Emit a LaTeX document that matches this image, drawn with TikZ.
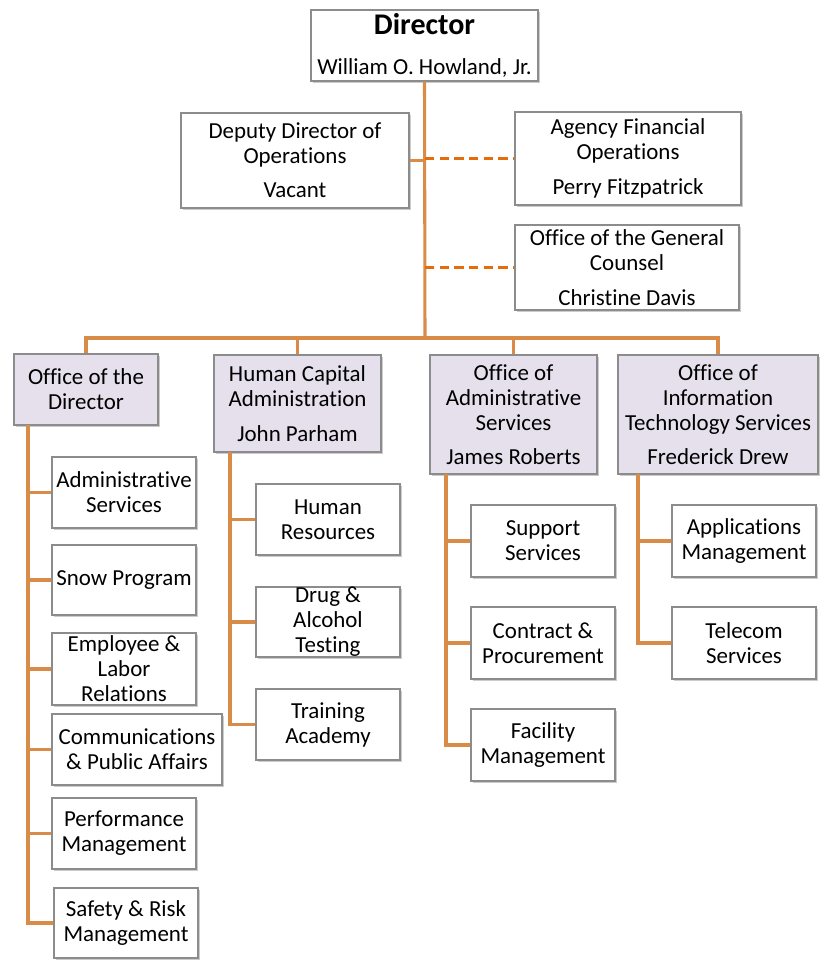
\documentclass[tikz,border=0pt]{standalone}
\usepackage{fontspec}
\setmainfont{Carlito}[Ligatures=NoCommon]
\usepackage{xcolor}
\usepackage{tikz}
\usetikzlibrary{positioning, shadows}
\definecolor{linkorange}{HTML}{D98B48}
\definecolor{dashorange}{HTML}{E46C0A}
\definecolor{lavender}{HTML}{E5E0EC}
\tikzset{
  unitbox/.style 2 args={rectangle, draw=black!45, line width=0.8pt, fill=white,
                 align=center, inner sep=0pt, minimum width=#1*0.75pt, minimum height=#2*0.75pt,
                 drop shadow={shadow xshift=1.3pt, shadow yshift=-1.5pt, fill=black!40, opacity=0.5}},
  headbox/.style 2 args={unitbox={#1}{#2}, fill=lavender},
  link/.style={draw=linkorange, line width=2.3pt},
  staffline/.style={draw=dashorange, line width=2.5pt, dash pattern=on 7pt off 4pt},
}

\begin{document}
\begin{tikzpicture}[x=0.75pt, y=-0.75pt, font=\fontsize{17.2}{18.75}\selectfont]
  \useasboundingbox (0,0) rectangle (825,960);

  % --- Director ---
  \node[unitbox={227}{71}] (dir) at (424.5,45.5)
        {{\fontsize{22.5}{24}\selectfont\bfseries Director}\\[11pt] William O. Howland, Jr.};

  % --- Staff offices ---
  \node[unitbox={228}{95}] (dep) at (295,160.5)
        {Deputy Director of\\ Operations\\[7pt] Vacant};
  \node[unitbox={226}{93}] (afo) at (628,158.5)
        {Agency Financial\\ Operations\\[7pt] Perry Fitzpatrick};
  \node[unitbox={224}{85}] (ogc) at (627,267.5)
        {Office of the General\\ Counsel\\[7pt] Christine Davis};

  % --- Offices ---
  \node[headbox={144}{71}]  (odir) at (86,389.5)   {Office of the\\ Director};
  \node[headbox={167}{97}]  (hca)  at (297.5,403.5) {Human Capital\\ Administration\\[7pt] John Parham};
  \node[headbox={167}{119}] (oas)  at (513.5,414.5) {Office of\\ Administrative\\ Services\\[7pt] James Roberts};
  \node[headbox={200}{119}] (oits) at (718,414.5)   {Office of\\ Information\\ Technology Services\\[7pt] Frederick Drew};

  % --- Office of the Director units ---
  \node[unitbox={144}{71}] (adm)  at (124,492.5) {Administrative\\ Services};
  \node[unitbox={144}{70}] (snow) at (124,580)   {Snow Program};
  \node[unitbox={144}{72}] (elr)  at (124,669)   {Employee \&\\ Labor\\ Relations};
  \node[unitbox={170}{71}] (cpa)  at (137,749.5) {Communications\\ \& Public Affairs};
  \node[unitbox={144}{71}] (perf) at (124,833.5) {Performance\\ Management};
  \node[unitbox={144}{70}] (safe) at (126,923)   {Safety \& Risk\\ Management};

  % --- Human Capital units ---
  \node[unitbox={144}{71}] (hr)    at (328,519.5) {Human\\ Resources};
  \node[unitbox={144}{70}] (drug)  at (328,622)   {Drug \&\\ Alcohol\\ Testing};
  \node[unitbox={144}{71}] (train) at (328,724.5) {Training\\ Academy};

  % --- Administrative Services units ---
  \node[unitbox={144}{72}] (sup) at (543,541) {Support\\ Services};
  \node[unitbox={144}{72}] (con) at (543,643) {Contract \&\\ Procurement};
  \node[unitbox={144}{72}] (fac) at (543,745) {Facility\\ Management};

  % --- IT Services units ---
  \node[unitbox={144}{72}] (app) at (744,541) {Applications\\ Management};
  \node[unitbox={144}{72}] (tel) at (744,643) {Telecom\\ Services};

  % --- Connectors ---
  \coordinate (bus) at (425,338);
  \coordinate (odirT) at (28,425);
  \coordinate (hcaT)  at (230,452);
  \coordinate (oasT)  at (446,474);
  \coordinate (oitsT) at (638,474);

  \draw[link] (dir.south) -- (bus);
  \draw[link] (dep.east) -- (dep.east -| bus);
  \draw[staffline] (afo.west -| bus) -- (afo.west);
  \draw[staffline] (ogc.west -| bus) -- (ogc.west);
  \draw[link] (odir.north) |- (bus) -| (oits.north);
  \draw[link] (hca.north) -- (hca.north |- bus);
  \draw[link] (oas.north) -- (oas.north |- bus);

  \draw[link] (odirT) |- (safe.west);
  \foreach \u in {adm,snow,elr,cpa,perf}
    \draw[link] (odirT |- \u.west) -- (\u.west);
  \draw[link] (hcaT) |- (train.west);
  \foreach \u in {hr,drug}
    \draw[link] (hcaT |- \u.west) -- (\u.west);
  \draw[link] (oasT) |- (fac.west);
  \foreach \u in {sup,con}
    \draw[link] (oasT |- \u.west) -- (\u.west);
  \draw[link] (oitsT) |- (tel.west);
  \draw[link] (oitsT |- app.west) -- (app.west);

\end{tikzpicture}
\end{document}
